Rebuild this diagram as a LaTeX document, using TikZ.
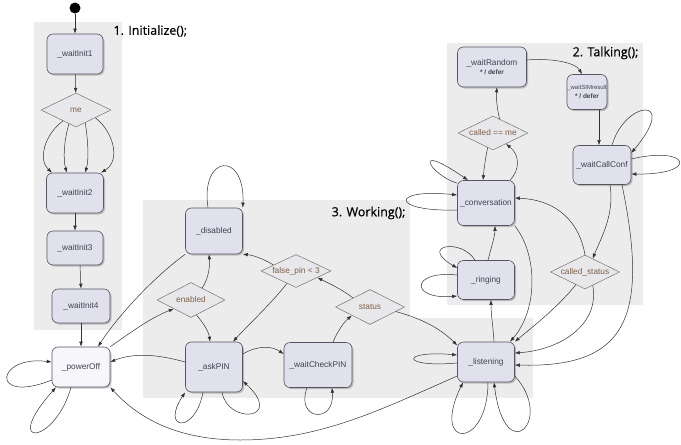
\documentclass[tikz,border=0pt]{standalone}
\usepackage{fontspec}
\setmainfont{Liberation Sans}
\newfontfamily\titlefont[FakeBold=0.4]{Open Sans}
\usetikzlibrary{arrows.meta,positioning,shapes.geometric,shadows}
\definecolor{regiongray}{RGB}{236,236,236}
\definecolor{statefill}{RGB}{225,225,238}
\definecolor{offfill}{RGB}{246,246,251}
\definecolor{stateline}{RGB}{85,85,95}
\definecolor{statetext}{RGB}{65,65,80}
\definecolor{choicefill}{RGB}{232,232,234}
\definecolor{choiceline}{RGB}{115,115,115}
\definecolor{choicetext}{RGB}{125,95,75}
\definecolor{flowline}{RGB}{50,50,50}
\newcommand{\defer}{\bfseries\fontsize{6.5}{7}\selectfont}

\begin{document}
\begin{tikzpicture}[x=1pt,y=-1pt,
  >={Latex[length=5pt,width=3.6pt]},
  region/.style={fill=regiongray},
  state/.style={draw=stateline, fill=statefill, rounded corners=6pt, line width=0.6pt,
    inner sep=1pt, text=statetext, font=\fontsize{8.3}{9}\selectfont,
    drop shadow={shadow xshift=1.5pt, shadow yshift=-1.5pt, fill=black!45, opacity=.5}},
  choice/.style={diamond, aspect=2.4, draw=choiceline, fill=choicefill, line width=0.5pt,
    inner sep=0pt, text=choicetext, font=\fontsize{8.3}{9}\selectfont},
  flow/.style={->, draw=flowline, line width=0.5pt},
  title/.style={font=\titlefont\fontsize{12.5}{14}\selectfont, text=black}]
\useasboundingbox (0,0) rectangle (681,445);

\fill[region] (34,22) rectangle (122,330);
\fill[region] (143,200) rectangle (410,398);
\fill[region] (410,318) rectangle (533,398);
\fill[region] (447,43) rectangle (643,305);

\node[title, anchor=west] (initTitle) at (110,31) {1. Initialize();};
\node[title, anchor=east] (talkTitle) at (642,53) {2. Talking();};
\node[title, anchor=east] (workTitle) at (409,213) {3. Working();};

\node[circle, fill=black, minimum size=11pt, inner sep=0pt] (start) at (75,8) {};
\node[state, minimum width=56pt, minimum height=40pt] (waitInit1) at (75,54) {\_waitInit1};
\node[choice, minimum width=70pt, minimum height=34pt] (me) at (76,110) {me};
\node[state, minimum width=57pt, minimum height=40pt] (waitInit2) at (75,193) {\_waitInit2};
\node[state, minimum width=56pt, minimum height=34pt] (waitInit3) at (75,248) {\_waitInit3};
\node[state, minimum width=58pt, minimum height=34pt] (waitInit4) at (81,306) {\_waitInit4};
\node[state, fill=offfill, minimum width=58pt, minimum height=40pt] (powerOff) at (81,367) {\_powerOff};
\node[state, minimum width=57pt, minimum height=46pt] (disabled) at (214,231) {\_disabled};
\node[choice, minimum width=68pt, minimum height=35pt] (enabled) at (191,300) {enabled};
\node[choice, minimum width=70pt, minimum height=33pt] (falsePin) at (296,271) {false\_pin < 3};
\node[choice, minimum width=69pt, minimum height=35pt] (status) at (370,307) {status};
\node[state, minimum width=57pt, minimum height=50pt] (askPIN) at (214,367) {\_askPIN};
\node[state, minimum width=68pt, minimum height=45pt] (waitCheckPIN) at (318,365) {\_waitCheckPIN};
\node[state, minimum width=69pt, minimum height=40pt, align=center] (waitRandom) at (492,67) {\_waitRandom\\{\defer * / defer}};
\node[state, minimum width=40pt, minimum height=35pt, align=center, inner sep=0pt] (waitSIMresult) at (587,92) {{\fontsize{6}{7}\selectfont\_waitSIMresult}\\{\defer * / defer}};
\node[choice, minimum width=70pt, minimum height=34pt] (calledMe) at (493,133) {called == me};
\node[state, minimum width=58pt, minimum height=39pt] (waitCallConf) at (602,165) {\_waitCallConf};
\node[state, minimum width=57pt, minimum height=45pt] (conversation) at (486,203) {\_conversation};
\node[state, minimum width=57pt, minimum height=39pt] (ringing) at (486,280) {\_ringing};
\node[choice, minimum width=69pt, minimum height=34pt] (calledStatus) at (585,272) {called\_status};
\node[state, minimum width=57pt, minimum height=40pt] (listening) at (486,362) {\_listening};

\draw[flow] (start) -- (waitInit1);
\draw[flow] (waitInit1) -- (me);
\draw[flow] (me.220) .. controls (44,135) and (38,160) .. ([xshift=-23pt]waitInit2.north);
\draw[flow] (me.243) .. controls (64,140) and (63,160) .. ([xshift=-8pt]waitInit2.north);
\draw[flow] (me.306) .. controls (88,140) and (89,160) .. ([xshift=10pt]waitInit2.north);
\draw[flow] (me.338) .. controls (112,130) and (122,160) .. ([xshift=26pt]waitInit2.north);
\draw[flow] (waitInit2) -- (waitInit3);
\draw[flow] ([xshift=5pt]waitInit3.south) -- (waitInit4.north);
\draw[flow] (waitInit4) -- (powerOff);
\draw[flow] ([yshift=-13pt]powerOff.west) .. controls (-10,405) and (-5,355) .. ([yshift=5pt]powerOff.west);
\draw[flow] ([xshift=-10pt]powerOff.south) .. controls (55,445) and (0,450) .. ([xshift=-25pt]powerOff.south);

\draw[flow] (disabled.south west) .. controls (150,280) and (115,320) .. ([xshift=17pt]powerOff.north);
\draw[flow] ([xshift=-6pt]disabled.north) .. controls (200,155) and (245,150) .. (disabled.north east);
\draw[flow] (powerOff.north east) .. controls (130,333) and (150,318) .. (enabled.207);
\draw[flow] (enabled.47) .. controls (209,278) and (210,265) .. ([xshift=-5pt]disabled.south);
\draw[flow] (enabled.290) .. controls (205,325) and (209,333) .. ([xshift=-4pt]askPIN.north);
\draw[flow] ([yshift=5pt]askPIN.west) .. controls (160,355) and (135,352) .. ([yshift=5pt]powerOff.east);
\draw[flow] (falsePin.165) .. controls (262,258) and (252,255) .. (disabled.south east);
\draw[flow] (falsePin.234) .. controls (270,305) and (248,325) .. ([xshift=19pt]askPIN.north);
\draw[flow] (status.152) .. controls (340,288) and (328,283) .. (falsePin.343);
\draw[flow] ([xshift=15pt]waitCheckPIN.north) .. controls (337,332) and (344,322) .. (status.205);
\draw[flow] ([yshift=13pt]askPIN.east) .. controls (258,345) and (272,346) .. ([yshift=11pt]waitCheckPIN.west);
\draw[flow] ([xshift=-11pt]askPIN.south) .. controls (195,435) and (160,430) .. (askPIN.south west);
\draw[flow] ([xshift=8pt]askPIN.south) .. controls (228,425) and (285,420) .. ([yshift=-14pt]askPIN.east);
\draw[flow] ([xshift=-11pt]waitCheckPIN.south) .. controls (295,420) and (335,425) .. ([xshift=14pt]waitCheckPIN.south);
\draw[flow] ([yshift=-14pt]listening.west) .. controls (380,410) and (320,440) .. (240,440)
  .. controls (180,440) and (140,420) .. (powerOff.south east);
\draw[flow] (status.350) .. controls (420,318) and (440,328) .. (listening.150);

\draw[flow] ([yshift=-1pt]listening.west) .. controls (400,368) and (400,350) .. ([yshift=7pt]listening.west);
\draw[flow] ([xshift=2pt]listening.south) .. controls (488,450) and (430,450) .. ([xshift=-23pt]listening.south);
\draw[flow] ([yshift=-14pt]listening.east) .. controls (555,420) and (505,470) .. ([xshift=8pt]listening.south);
\draw[flow] ([xshift=8pt]listening.north) .. controls (493,325) and (491,315) .. ([xshift=5pt]ringing.south);
\draw[flow] ([xshift=2pt]ringing.north) .. controls (492,245) and (495,235) .. ([xshift=9pt]conversation.south);
\draw[flow] ([xshift=-11pt]ringing.north) .. controls (462,238) and (418,245) .. ([yshift=12pt]ringing.west);
\draw[flow] ([yshift=5pt]ringing.west) .. controls (410,270) and (410,300) .. ([yshift=-16pt]ringing.west);
\draw[flow] (conversation.south east) .. controls (538,255) and (538,310) .. ([xshift=24pt]listening.north);
\draw[flow] ([yshift=-3pt]conversation.north west) .. controls (430,175) and (410,140) .. ([xshift=-18pt]conversation.north);
\draw[flow] ([yshift=-7pt]conversation.west) .. controls (390,212) and (390,188) .. ([yshift=8pt]conversation.west);
\draw[flow] ([xshift=24pt]conversation.north) .. controls (520,170) and (520,155) .. (calledMe.320);
\draw[flow] (calledMe.250) .. controls (485,160) and (484,170) .. ([xshift=-3pt]conversation.north);
\draw[flow] (calledMe.65) .. controls (497,108) and (496,98) .. ([xshift=5pt]waitRandom.south);
\draw[flow] ([yshift=7pt]waitRandom.east) .. controls (550,58) and (575,62) .. ([xshift=-5pt]waitSIMresult.north);
\draw[flow] ([xshift=12pt]waitSIMresult.south) -- ([xshift=-3pt]waitCallConf.north);
\draw[flow] ([xshift=10pt]waitCallConf.north) .. controls (625,100) and (680,95) .. ([yshift=12pt]waitCallConf.east);
\draw[flow] ([yshift=6pt]waitCallConf.east) .. controls (690,145) and (700,175) .. ([yshift=-9pt]waitCallConf.east);
\draw[flow] ([xshift=8pt]waitCallConf.south) .. controls (615,215) and (600,240) .. (calledStatus.60);
\draw[flow] ([xshift=20pt]waitCallConf.south) .. controls (650,320) and (625,368) .. ([yshift=-3pt]listening.east);
\draw[flow] (calledStatus.north) .. controls (580,225) and (560,200) .. ([yshift=5pt]conversation.east);
\draw[flow] (calledStatus.234) .. controls (560,305) and (535,325) .. (listening.north east);
\draw[flow] (calledStatus.300) .. controls (600,325) and (560,350) .. ([yshift=9pt]listening.east);
\end{tikzpicture}
\end{document}
